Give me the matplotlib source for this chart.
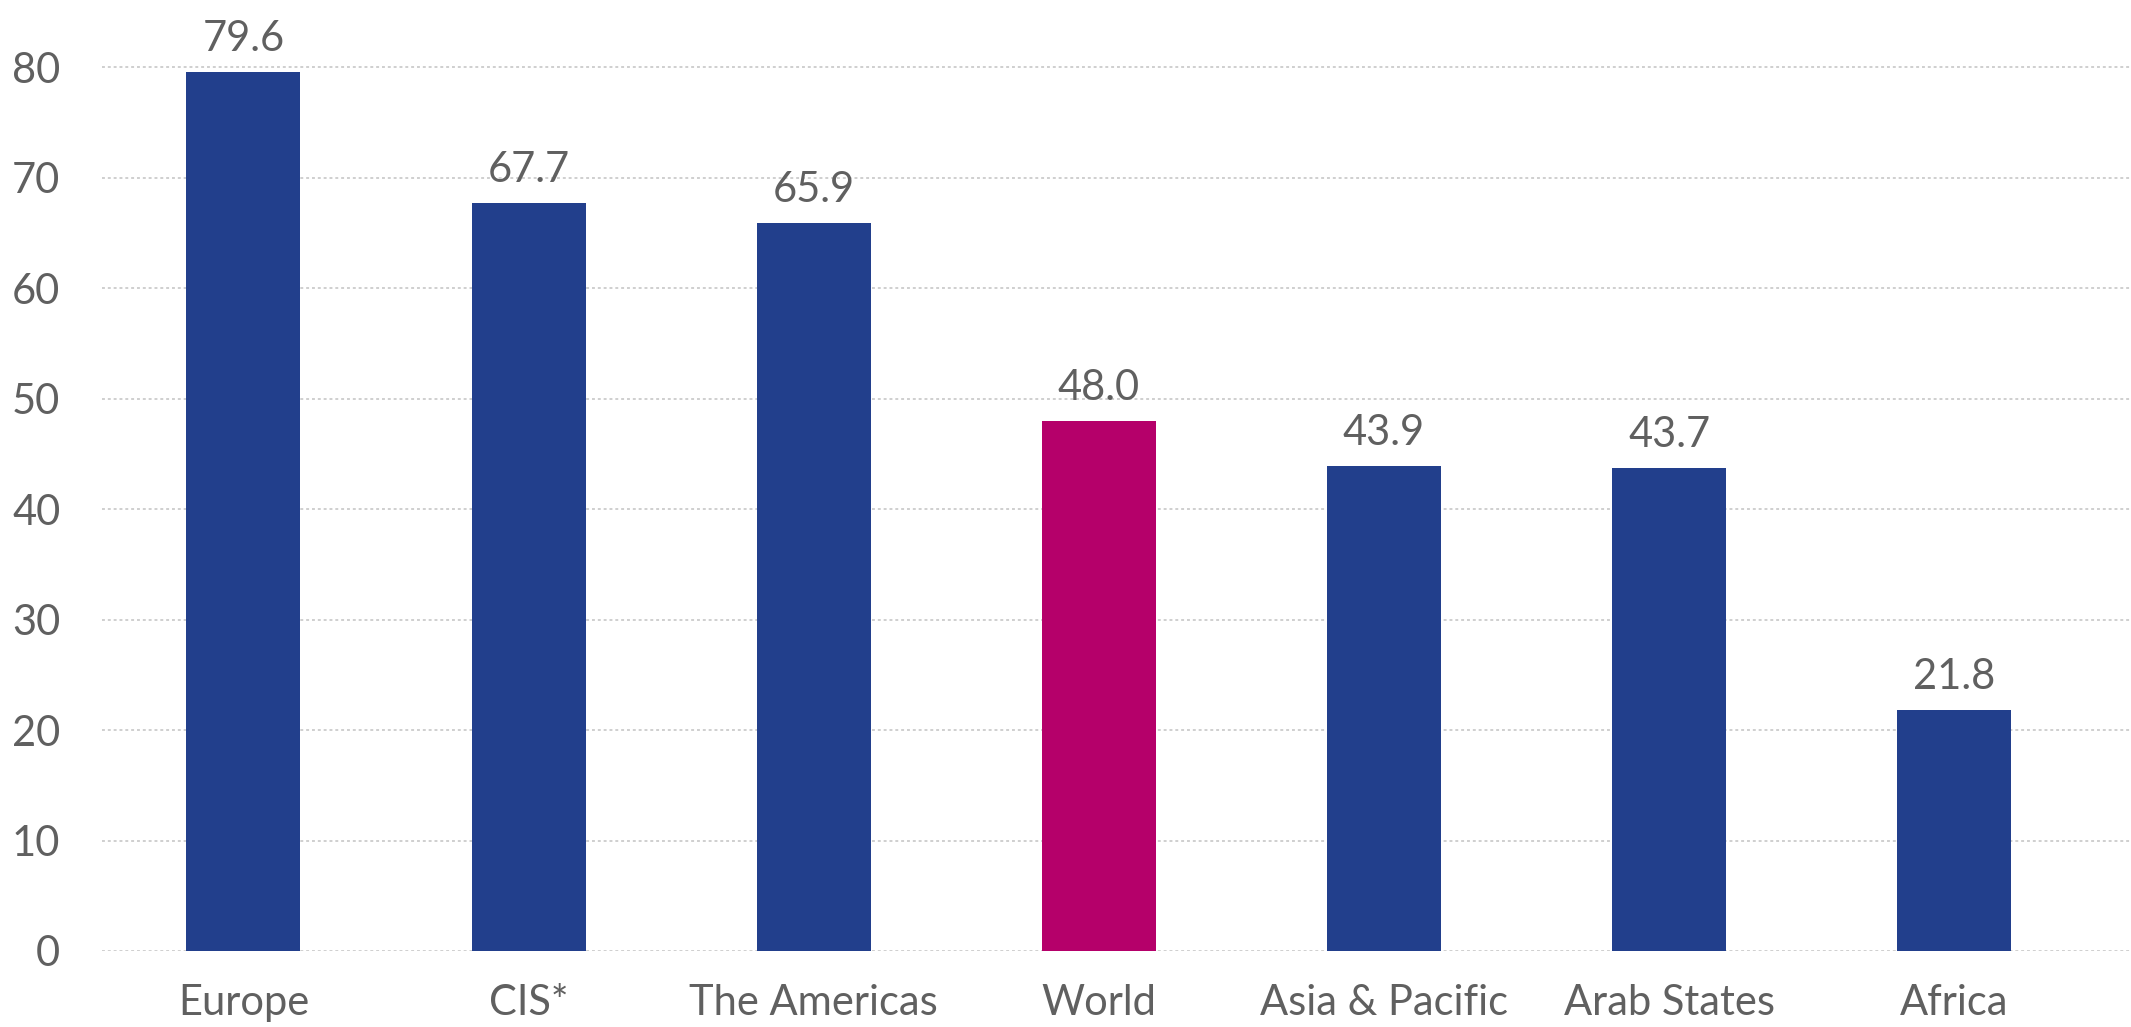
import matplotlib
matplotlib.use('Agg')
import matplotlib.pyplot as plt
import numpy as np

regions = ['Europe', 'CIS*', 'The Americas', 'World', 'Asia & Pacific', 'Arab States', 'Africa']
values = [79.6, 67.7, 65.9, 48.0, 43.9, 43.7, 21.8]
labels = ['79.6', '67.7', '65.9', '48.0', '43.9', '43.7', '21.8']
yticks = [0, 10, 20, 30, 40, 50, 60, 70, 80]

blue = '#223f8c'
pink = '#b5006a'
grey = '#606060'
colors = [pink if r == 'World' else blue for r in regions]

plt.rcParams['font.family'] = ['Lato', 'DejaVu Sans']

fig = plt.figure(figsize=(21.31, 10.27), dpi=100)
ax = fig.add_axes([102/2131, 76/1027, 1 - 102/2131, 1 - 76/1027])

x = np.arange(len(regions))
ax.bar(x, values, width=0.40, color=colors, zorder=3)

for xi, v, lab in zip(x, values, labels):
    ax.annotate(lab, (xi, v), xytext=(0, 15), textcoords='offset points',
                ha='center', va='baseline', fontsize=30, color=grey)

ax.set_xlim(-0.496, 6.62)
ax.set_ylim(0, 86.1)
ax.set_xticks(x)
ax.set_xticklabels(regions)
ax.set_yticks(yticks)
ax.tick_params(axis='both', length=0, labelsize=30, labelcolor=grey)
ax.tick_params(axis='y', pad=30)
ax.tick_params(axis='x', pad=24)

# light dotted gridlines, behind the bars
ax.grid(axis='y', color='#cfcfcf', linestyle=(0, (1.5, 1.5)), linewidth=1.4, zorder=0)
for tag in ['top', 'right', 'left', 'bottom']:
    ax.spines[tag].set_visible(False)

fig.savefig('out.png', dpi=100)
